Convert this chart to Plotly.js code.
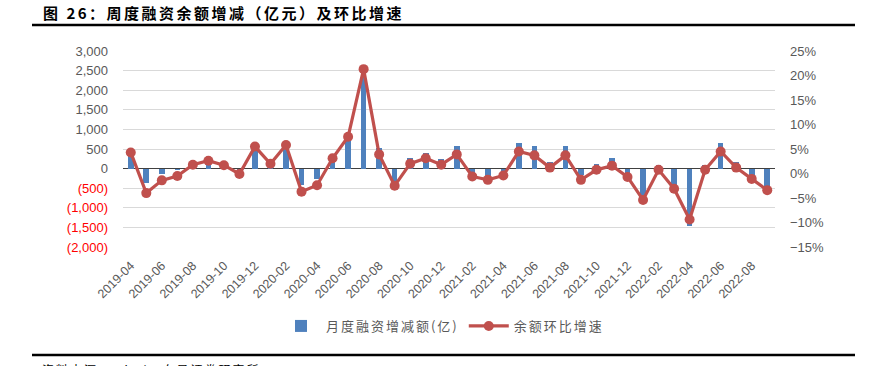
<!DOCTYPE html>
<html><head><meta charset="utf-8">
<script src="https://cdn.plot.ly/plotly-3.0.1.min.js"></script>
<style>html,body{margin:0;padding:0;background:#fff;}#chart{width:873px;height:366px;}</style>
</head><body><div id="chart"></div>
<script>
const months = ["2019-04","2019-05","2019-06","2019-07","2019-08","2019-09","2019-10","2019-11","2019-12",
"2020-01","2020-02","2020-03","2020-04","2020-05","2020-06","2020-07","2020-08","2020-09","2020-10","2020-11","2020-12",
"2021-01","2021-02","2021-03","2021-04","2021-05","2021-06","2021-07","2021-08","2021-09","2021-10","2021-11","2021-12",
"2022-01","2022-02","2022-03","2022-04","2022-05","2022-06","2022-07","2022-08","2022-09"];
const changeAmount = [400,-375,-140,-45,100,100,50,-50,520,150,575,-420,-257,240,780,2400,520,-480,260,405,245,576,-120,-206,-120,660,576,177,584,-163,110,262,-120,-758,90,-460,-1464,90,645,160,-163,-460];
const growthPct = [4.3,-4.0,-1.4,-0.5,1.8,2.6,1.7,-0.1,5.5,2.0,5.8,-3.7,-2.4,3.1,7.5,21.3,3.9,-2.5,2.0,3.1,1.8,3.9,-0.6,-1.3,-0.4,4.5,3.7,1.2,3.7,-1.3,0.75,1.6,-0.7,-5.4,0.75,-3.1,-9.4,0.75,4.5,1.2,-1.1,-3.4];
const leftTicks = [-2000,-1500,-1000,-500,0,500,1000,1500,2000,2500,3000];
const leftTickText = leftTicks.map(v => v < 0
  ? '<span style="fill:#ff0000">(' + Math.abs(v).toLocaleString('en-US') + ')</span>'
  : v.toLocaleString('en-US'));
const xTickVals = months.filter((m,i) => i % 2 === 0);

const gray = '#595959';
const traces = [
  {type:'bar', x: months, y: changeAmount, name:'<span style="letter-spacing:2px">月度融资增减额(亿)</span>',
   marker:{color:'#4f81bd'}, width:0.36, xaxis:'x', yaxis:'y'},
  {type:'scatter', mode:'lines+markers', x: months, y: growthPct, name:'<span style="letter-spacing:2px">余额环比增速</span>',
   line:{color:'#c0504d', width:3.2}, marker:{color:'#c0504d', size:10}, xaxis:'x', yaxis:'y2'}
];
const layout = {
  width:873, height:366,
  margin:{l:123, r:98, t:51, b:119},
  paper_bgcolor:'#fff', plot_bgcolor:'#fff',
  font:{family:'"Liberation Sans", Arial, "Noto Sans CJK SC", sans-serif', color:gray, size:13},
  showlegend:true,
  legend:{orientation:'h', x:0.49, xanchor:'center', y:-0.403, yanchor:'middle',
    font:{family:'"Noto Sans CJK SC", sans-serif', size:13, color:gray}, itemwidth:40, tracegroupgap:0},
  bargap:0,
  xaxis:{type:'category', categoryorder:'array', categoryarray: months, range:[-0.5, 41.5],
    tickvals: xTickVals, tickangle:-45, ticks:'', showline:false, showgrid:false,
    tickfont:{size:12.5, color:gray}, ticklabelstandoff:8, zeroline:false},
  xaxis2:{overlaying:'x', anchor:'free', position:0.4, range:[-0.5, 41.5], tick0:-0.5, dtick:2,
    ticks:'outside', ticklen:4, tickcolor:'#404040', tickwidth:1, showticklabels:false, showgrid:false,
    showline:false, zeroline:false},
  yaxis:{range:[-2000,3000], tickvals: leftTicks, ticktext: leftTickText, showgrid:true, gridcolor:'#d9d9d9',
    gridwidth:1, zeroline:true, zerolinecolor:'#404040', zerolinewidth:1.5, showline:false, ticks:'',
    ticklabelstandoff:14, tickfont:{size:13, color:gray}},
  yaxis2:{overlaying:'y', side:'right', range:[-15,25], dtick:5, tick0:0, ticksuffix:'%', showgrid:false,
    zeroline:false, showline:false, ticks:'', ticklabelstandoff:14, tickfont:{size:13, color:gray}},
  annotations:[
    {xref:'paper', yref:'paper', x:(41-123)/652, y:(247-13)/196, xanchor:'left', yanchor:'middle', showarrow:false,
     text:'<b><span style="letter-spacing:2.5px">图 26：周度融资余额增减（亿元）及环比增速</span></b>',
     font:{family:'"Noto Sans CJK SC", sans-serif', size:15, color:'#000'}},
    {xref:'paper', yref:'paper', x:(40-123)/652, y:(247-359)/196, xanchor:'left', yanchor:'top', showarrow:false,
     text:'<span style="letter-spacing:2px">资料来源：Wind，东吴证券研究所</span>',
     font:{family:'"Noto Sans CJK SC", sans-serif', size:12, color:'#000'}}
  ],
  shapes:[
    {type:'line', xref:'paper', yref:'paper', x0:(32-123)/652, x1:(855-123)/652, y0:(247-25)/196, y1:(247-25)/196,
     line:{color:'#000', width:2.5}},
    {type:'line', xref:'paper', yref:'paper', x0:(32-123)/652, x1:(855-123)/652, y0:(247-355)/196, y1:(247-355)/196,
     line:{color:'#000', width:2.5}}
  ]
};
Plotly.newPlot('chart', traces, layout, {displayModeBar:false, staticPlot:true});
</script></body></html>
